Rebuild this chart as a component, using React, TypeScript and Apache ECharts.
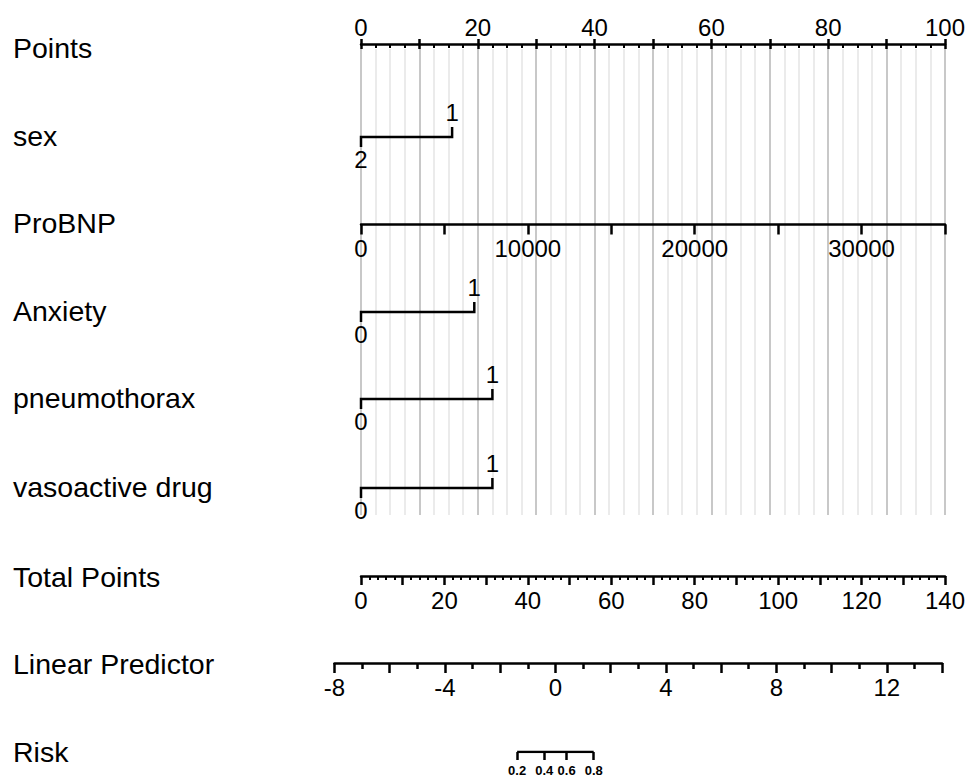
import React, { useEffect, useRef } from "react";
import * as echarts from "echarts";

// ---- data ----
const rowLabels = ["Points", "sex", "ProBNP", "Anxiety", "pneumothorax", "vasoactive drug", "Total Points", "Linear Predictor", "Risk"];
const pointsRange = [0, 100];
const probnpRange = [0, 35000];
const totalPointsRange = [0, 140];
const lpRange = [-8, 14];
const riskTicks = [0.2, 0.4, 0.6, 0.8];

// binary predictors: level labels and their points (first level = upper label)
const sexLevels = ["1", "2"];
const sexPoints = [15.6, 0];
const anxietyLevels = ["1", "0"];
const anxietyPoints = [19.4, 0];
const pneumoLevels = ["1", "0"];
const pneumoPoints = [22.5, 0];
const vasoLevels = ["1", "0"];
const vasoPoints = [22.5, 0];

// ---- layout ----
const FONT = "'Liberation Sans', Arial, sans-serif";
const rowY = [44, 137, 224.5, 312, 399, 488, 576, 663, 752];
const labelY = [48, 136, 223, 311, 398, 487, 577, 664, 752];
const PL = 361;
const PW = 584;
const LPL = 334.5;
const LPW = 607.5;
const LW = 2.5;

const logit = (p: number) => Math.log(p / (1 - p));

export default function App() {
  const ref = useRef<HTMLDivElement>(null);
  useEffect(() => {
    if (!ref.current) return;
    const chart = echarts.init(ref.current, null, { renderer: "svg" });
    const black = "#000";
    const baseGrid = { containLabel: false, outerBoundsMode: "none" } as any;

    const grids: any[] = [];
    const xAxes: any[] = [];
    const yAxes: any[] = [];
    const series: any[] = [];

    const addGrid = (g: any, ymin = 0, ymax = 1) => {
      grids.push({ ...baseGrid, ...g });
      const idx = grids.length - 1;
      yAxes.push({ type: "value", gridIndex: idx, show: false, min: ymin, max: ymax });
      return idx;
    };
    const tickLabel = { color: black, fontSize: 24, fontFamily: FONT };

    // gridlines grid
    const gG = addGrid({ left: PL, width: PW, top: 49, height: 466 });
    xAxes.push({
      type: "value", gridIndex: gG, position: "bottom", min: pointsRange[0], max: pointsRange[1], interval: 10,
      axisLine: { show: false, onZero: false }, axisTick: { show: false }, axisLabel: { show: false },
      minorTick: { show: false, splitNumber: 4 },
      splitLine: { show: true, lineStyle: { color: "#c8c8c8", width: 2 } },
      minorSplitLine: { show: true, lineStyle: { color: "#ebebeb", width: 2 } },
    });

    // Points axis
    const gP = addGrid({ left: PL, width: PW, top: rowY[0], height: 10 });
    xAxes.push({
      type: "value", gridIndex: gP, position: "top", min: pointsRange[0], max: pointsRange[1], interval: 10,
      axisLine: { show: true, onZero: false, lineStyle: { color: black, width: LW } },
      axisTick: { show: true, inside: true, length: 5, lineStyle: { color: black, width: LW } },
      minorTick: { show: true, splitNumber: 4, length: 4, lineStyle: { color: black, width: 2 } },
      axisLabel: { ...tickLabel, margin: 5, formatter: (v: number) => (v % 20 === 0 ? String(v) : "") },
      splitLine: { show: false },
    });
    xAxes.push({
      type: "value", gridIndex: gP, position: "top", min: pointsRange[0], max: pointsRange[1], interval: 10,
      axisLine: { show: false, onZero: false },
      axisTick: { show: true, inside: false, length: 5, lineStyle: { color: black, width: LW } },
      axisLabel: { show: false }, splitLine: { show: false },
    });

    // ProBNP axis
    const gB = addGrid({ left: PL, width: PW, top: rowY[2] - 10, height: 10 });
    xAxes.push({
      type: "value", gridIndex: gB, position: "bottom", min: probnpRange[0], max: probnpRange[1], interval: 5000,
      axisLine: { show: true, onZero: false, lineStyle: { color: black, width: LW } },
      axisTick: { show: true, length: 10, lineStyle: { color: black, width: LW } },
      axisLabel: { ...tickLabel, margin: 12, formatter: (v: number) => (v % 10000 === 0 ? String(v) : "") },
      splitLine: { show: false },
    });

    // binary predictors
    const binaries: [string[], number[], number][] = [
      [sexLevels, sexPoints, rowY[1]],
      [anxietyLevels, anxietyPoints, rowY[3]],
      [pneumoLevels, pneumoPoints, rowY[4]],
      [vasoLevels, vasoPoints, rowY[5]],
    ];
    binaries.forEach(([levels, pts, y]) => {
      const gi = addGrid({ left: PL, width: PW, top: y - 10, height: 20 }, -1, 1);
      xAxes.push({ type: "value", gridIndex: gi, show: false, min: pointsRange[0], max: pointsRange[1], splitLine: { show: false }, axisLine: { onZero: false } });
      const xi = xAxes.length - 1;
      series.push({
        type: "line", xAxisIndex: xi, yAxisIndex: gi, symbol: "none", silent: true,
        lineStyle: { color: black, width: LW, join: "miter", cap: "butt" },
        data: [[pts[0], 1], [pts[0], 0], [pts[1], 0], [pts[1], -1]],
      });
      series.push({
        type: "scatter", xAxisIndex: xi, yAxisIndex: gi, symbolSize: 1, silent: true,
        itemStyle: { color: "rgba(0,0,0,0)", opacity: 1 },
        label: { show: true, color: black, opacity: 1, fontSize: 24, fontFamily: FONT, formatter: (p: any) => p.value[2] },
        data: [
          { value: [pts[0], 1, levels[0]], label: { position: "top", distance: 2 } },
          { value: [pts[1], -1, levels[1]], label: { position: "bottom", distance: 0 } },
        ],
      });
    });

    // Total points
    const gT = addGrid({ left: PL, width: PW, top: rowY[6] - 10, height: 10 });
    xAxes.push({
      type: "value", gridIndex: gT, position: "bottom", min: totalPointsRange[0], max: totalPointsRange[1], interval: 10,
      axisLine: { show: true, onZero: false, lineStyle: { color: black, width: LW } },
      axisTick: { show: true, length: 9, lineStyle: { color: black, width: LW } },
      minorTick: { show: true, splitNumber: 5, length: 4, lineStyle: { color: black, width: 2 } },
      axisLabel: { ...tickLabel, margin: 12, formatter: (v: number) => (v % 20 === 0 ? String(v) : "") },
      splitLine: { show: false },
    });

    // Linear predictor
    const gL = addGrid({ left: LPL, width: LPW, top: rowY[7] - 10, height: 10 });
    xAxes.push({
      type: "value", gridIndex: gL, position: "bottom", min: lpRange[0], max: lpRange[1], interval: 2,
      axisLine: { show: true, onZero: false, lineStyle: { color: black, width: LW } },
      axisTick: { show: true, length: 10, lineStyle: { color: black, width: LW } },
      minorTick: { show: true, splitNumber: 2, length: 6, lineStyle: { color: black, width: LW } },
      axisLabel: { ...tickLabel, margin: 12, formatter: (v: number) => (v % 4 === 0 ? String(v) : "") },
      splitLine: { show: false },
    });

    // Risk
    const gR = addGrid({ left: LPL, width: LPW, top: rowY[8] - 10, height: 10 });
    const riskLogits = riskTicks.map(logit);
    xAxes.push({
      type: "value", gridIndex: gR, position: "bottom", min: lpRange[0], max: lpRange[1],
      axisLine: { show: false, onZero: false },
      axisTick: { show: true, length: 8, customValues: riskLogits, lineStyle: { color: black, width: LW } },
      axisLabel: {
        show: true, customValues: riskLogits, margin: 12, color: black, fontSize: 13, fontWeight: "bold", fontFamily: FONT,
        formatter: (v: number) => (1 / (1 + Math.exp(-v))).toFixed(1),
      },
      splitLine: { show: false },
    });
    series.push({
      type: "line", xAxisIndex: xAxes.length - 1, yAxisIndex: gR, symbol: "none", silent: true,
      lineStyle: { color: black, width: LW },
      data: [[riskLogits[0], 0], [riskLogits[riskLogits.length - 1], 0]],
    });

    const graphic = rowLabels.map((t, i) => ({
      type: "text", x: 13, y: labelY[i],
      style: { text: t, fill: black, fontSize: 28.5, fontFamily: FONT, verticalAlign: "middle", textVerticalAlign: "middle" },
    }));

    chart.setOption({
      animation: false,
      backgroundColor: "#fff",
      grid: grids,
      xAxis: xAxes,
      yAxis: yAxes,
      series,
      graphic,
    });
    return () => chart.dispose();
  }, []);
  return <div ref={ref} style={{ width: 966, height: 779, position: "absolute", left: 0, top: 0 }} />;
}
